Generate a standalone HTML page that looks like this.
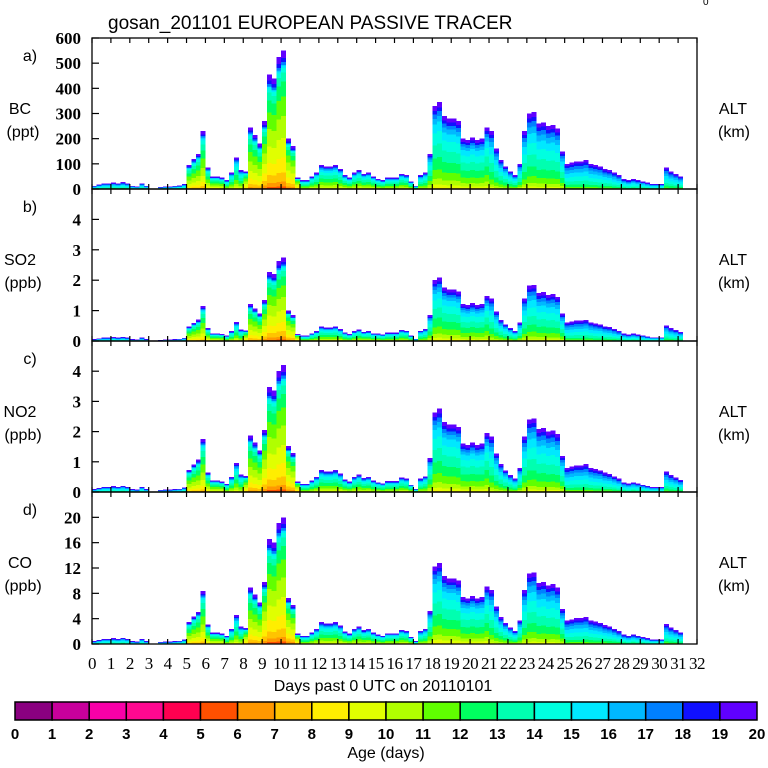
<!DOCTYPE html>
<html><head><meta charset="utf-8">
<style>
html,body{margin:0;padding:0;background:#fff;}
svg{display:block;}
.sans{font-family:"Liberation Sans",sans-serif;}
.serif{font-family:"Liberation Serif",serif;}
</style></head>
<body>
<svg id="chart" width="768" height="768" viewBox="0 0 768 768" xmlns="http://www.w3.org/2000/svg">
<text x="108" y="29" class="sans" font-size="19">gosan_201101 EUROPEAN PASSIVE TRACER</text>
<text x="703" y="5" class="sans" font-size="10">0</text>
<g id="panels"></g>
<g id="colorbar"></g>
<text x="383" y="691" class="sans" font-size="16" text-anchor="middle">Days past 0 UTC on 20110101</text>
<text x="386" y="758" class="sans" font-size="16" text-anchor="middle">Age (days)</text>
</svg>
<script>
// BC totals (ppt) every 6 hours starting day 0
const bcValues = [12,18,22,22, 25,22,27,22, 12,10,22,12, 2,0,8,10, 10,12,14,20,
 95,120,140,230, 85,50,50,45, 35,65,125,75, 70,245,215,180, 270,455,440,525,
 550,200,170,45, 35,35,50,65, 95,90,90,95, 80,55,45,65, 75,60,65,50,
 40,35,45,45, 45,60,55,30, 12,55,65,140, 330,345,290,280, 280,270,200,195,
 205,195,200,245, 230,160,115,90, 70,55,100,230, 300,305,260,265, 250,255,240,150,
 100,105,110,110, 115,100,95,90, 80,75,65,55, 40,35,40,35, 30,25,20,20,
 20,85,70,60, 50];
// Mean tracer age (days) per day
const meanAge = [15,15,15,15,15,11.5,12,13,11,10.5,10.5,13,13,13,13,13,13,13.5,13.5,13.5,13.5,14,14,14,14,15,15,15,15,15,15,15];
// panel definitions
const panelNames = ["BC","SO2","NO2","CO"];
const panelUnits = ["(ppt)","(ppb)","(ppb)","(ppb)"];
const panelLetters = ["a)","b)","c)","d)"];
const panelMax = [600,5,5,24];
const panelTicks = [[0,100,200,300,400,500,600],[0,1,2,3,4],[0,1,2,3,4],[0,4,8,12,16,20]];
const scaleEarly = [1,1/200,1/131,1/27.5];
const scaleLate = [1,1/165,1/125,1/27];
const ageColors = ["#8a0080","#c8009c","#f800a8","#ff0890","#ff0050","#ff5000","#ff9800","#ffc400","#ffee00","#e0ff00","#b0ff00","#60ff00","#00ff60","#00ffb0","#00ffe0","#00e8ff","#00b8ff","#0080ff","#1010ff","#6000ff"];
const ageLabels = ["0","1","2","3","4","5","6","7","8","9","10","11","12","13","14","15","16","17","18","19","20"];

const NS="http://www.w3.org/2000/svg";
const X0=92, X1=697, DAYS=32;
const panelTop=[38,189,341,492], panelBot=[189,341,492,644];
function xScale(d){return X0+(X1-X0)*d/DAYS;}
function mk(tag,attrs,parent){const e=document.createElementNS(NS,tag);for(const k in attrs)e.setAttribute(k,attrs[k]);parent.appendChild(e);return e;}
function weights(m){
  const w=[];let s=0;
  for(let k=0;k<20;k++){let v=Math.exp(-Math.pow(k+0.5-m,2)/(2*2.3*2.3));w.push(v);s+=v;}
  for(let k=0;k<20;k++)w[k]=w[k]/s*0.9;
  w[17]+=0.02;w[18]+=0.03;w[19]+=0.05;
  return w;
}
const panels=document.getElementById('panels');
for(let p=0;p<4;p++){
  const g=mk('g',{},panels);
  
  
  const top=panelTop[p], bot=panelBot[p];
  const yS=v=>bot-(bot-top)*v/panelMax[p];
  const marks=mk('g',{'shape-rendering':'crispEdges'},g);
  
  
  for(let i=0;i<bcValues.length;i++){
    const t=i*0.25;
    const total=bcValues[i]*(t<15?scaleEarly[p]:scaleLate[p]);
    const w=weights(meanAge[Math.floor(t)]);
    let cum=0;
    const xa=xScale(t), xb=xScale(t+0.25);
    for(let k=0;k<20;k++){
      const v=total*w[k];
      if(v<=0)continue;
      const y1=yS(cum+v), y0=yS(cum);
      const r=mk('rect',{x:xa.toFixed(2),y:y1.toFixed(2),width:(xb-xa+0.3).toFixed(2),height:Math.max(0,y0-y1+0.3).toFixed(2),fill:ageColors[k]},marks);
      
      
      cum+=v;
    }
  }
  const fr=mk('rect',{x:X0,y:top,width:X1-X0,height:bot-top,fill:'none',stroke:'#000','stroke-width':1.3},g);
  
  
  for(let d=0;d<=DAYS;d++){
    const x=xScale(d);
    mk('line',{x1:x,x2:x,y1:bot-5,y2:bot,stroke:'#000','stroke-width':1.2},g);
    mk('line',{x1:x,x2:x,y1:top,y2:top+5,stroke:'#000','stroke-width':1.2},g);
  }
  panelTicks[p].forEach(v=>{
    const y=yS(v);
    mk('line',{x1:X0,x2:X0+7,y1:y,y2:y,stroke:'#000','stroke-width':1.2},g);
    const t=mk('text',{x:X0-11,y:y+6,'text-anchor':'end','font-size':17,class:'serif','font-weight':'bold'},g);
    t.textContent=v;
    
    
  });
  const lt=mk('text',{x:30,y:top+23,'text-anchor':'middle','font-size':16,class:'sans'},g);
  lt.textContent=panelLetters[p];
  
  
  const nm=mk('text',{x:20,y:top+76,'text-anchor':'middle','font-size':16,class:'sans'},g);
  nm.textContent=panelNames[p];
  
  
  const un=mk('text',{x:23,y:top+99,'text-anchor':'middle','font-size':16,class:'sans'},g);
  un.textContent=panelUnits[p];
  
  
  const al=mk('text',{x:733,y:top+76,'text-anchor':'middle','font-size':16,class:'sans'},g);
  al.textContent='ALT';
  
  
  const ak=mk('text',{x:734,y:top+99,'text-anchor':'middle','font-size':16,class:'sans'},g);
  ak.textContent='(km)';
  
  
}
const svg=document.getElementById('chart');
for(let d=0;d<=DAYS;d++){
  const t=mk('text',{x:xScale(d),y:669,'text-anchor':'middle','font-size':17,class:'serif','letter-spacing':'-0.5'},svg);
  t.textContent=d;
  
  
}
const cb=document.getElementById('colorbar');
const CB0=15, CB1=757, CBW=(CB1-CB0)/20;
for(let k=0;k<20;k++){
  const r=mk('rect',{x:CB0+k*CBW,y:702,width:CBW,height:18,fill:ageColors[k],stroke:'#000','stroke-width':1.5},cb);
  
  
}
for(let k=0;k<=20;k++){
  const t=mk('text',{x:CB0+k*CBW,y:739,'text-anchor':'middle','font-size':15,class:'sans','font-weight':'bold'},cb);
  t.textContent=ageLabels[k];
  
  
}
</script>
</body></html>
